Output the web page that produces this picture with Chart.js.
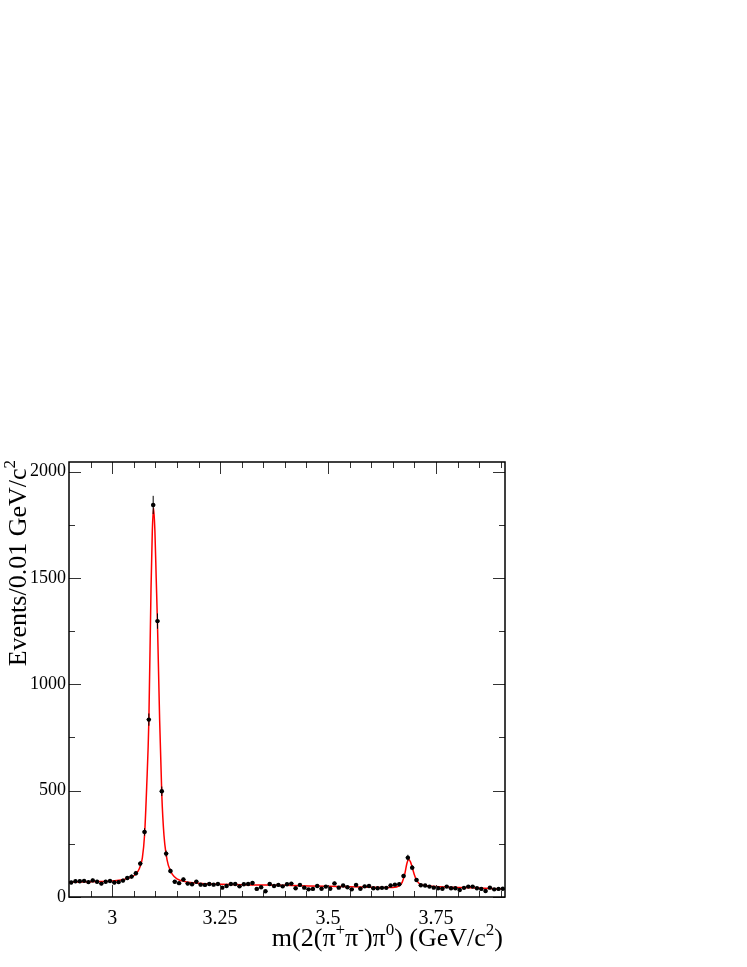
<!DOCTYPE html>
<html>
<head>
<meta charset="utf-8">
<style>
  html, body { margin: 0; padding: 0; background: #fff; }
  canvas { display: block; }
</style>
<script src="https://cdn.jsdelivr.net/npm/chart.js@4.4.1/dist/chart.umd.min.js"></script>
</head>
<body>
<canvas id="chart" width="747" height="967"></canvas>
<script>
// histogram: 0.01 GeV/c^2 bins from 2.90 to 3.91
const binLow = 2.9;
const binWidth = 0.01;
const counts = [
  68, 74, 74, 76, 70, 78, 72, 63, 72, 75,
  68, 70, 77, 89, 96, 112, 157, 306, 834, 1843,
  1297, 497, 204, 122, 72, 65, 82, 63, 60, 72,
  58, 57, 61, 58, 61, 44, 52, 61, 61, 50,
  60, 61, 66, 38, 46, 27, 61, 52, 57, 50,
  60, 63, 41, 57, 44, 36, 38, 52, 39, 49,
  39, 64, 44, 54, 46, 36, 57, 39, 50, 52,
  41, 41, 43, 43, 54, 58, 60, 99, 185, 138,
  80, 55, 54, 49, 44, 41, 39, 49, 41, 41,
  33, 43, 49, 49, 41, 38, 28, 44, 36, 38,
  39
];

// fit curve
const fitMass = [2.90, 2.95, 3.00, 3.02, 3.04, 3.05, 3.06, 3.065, 3.07, 3.075,
  3.08, 3.085, 3.09, 3.093, 3.096, 3.099, 3.102, 3.105, 3.11, 3.115,
  3.12, 3.125, 3.13, 3.14, 3.15, 3.17, 3.20, 3.30, 3.40, 3.50,
  3.60, 3.65, 3.665, 3.672, 3.678, 3.683, 3.687, 3.691, 3.695, 3.70,
  3.705, 3.71, 3.72, 3.74, 3.80, 3.85, 3.91];
const fitCounts = [70, 72, 75, 80, 90, 100, 122, 145, 185, 290,
  520, 830, 1450, 1720, 1830, 1720, 1500, 1280, 830, 480,
  290, 200, 150, 105, 85, 72, 65, 58, 55, 50,
  46, 45, 52, 70, 110, 160, 176, 165, 140, 105,
  80, 66, 55, 50, 45, 42, 38];

const xTickLabels = [3, 3.25, 3.5, 3.75];
const xMinorTicks = [2.95, 3.05, 3.1, 3.15, 3.2, 3.3, 3.35, 3.4, 3.45, 3.55, 3.6, 3.65, 3.7, 3.8, 3.85, 3.9];
const yTickLabels = [0, 500, 1000, 1500, 2000];
const yMinorTicks = [250, 750, 1250, 1750];

const serif = "'Liberation Serif', 'Times New Roman', serif";

const points = counts.map((c, i) => ({ x: binLow + (i + 0.5) * binWidth, y: c }));
const fitPoints = fitMass.map((m, i) => ({ x: m, y: fitCounts[i] }));

// draws text with superscripts, right aligned at (x, y)
function drawRich(ctx, parts, x, y) {
  const big = '26px ' + serif, small = '17px ' + serif;
  let total = 0;
  parts.forEach(p => {
    ctx.font = p.sup ? small : big;
    p.w = ctx.measureText(p.t).width;
    total += p.w;
  });
  let cx = x - total;
  ctx.textAlign = 'left';
  ctx.textBaseline = 'alphabetic';
  parts.forEach(p => {
    ctx.font = p.sup ? small : big;
    ctx.fillText(p.t, cx, p.sup ? y - 11 : y);
    cx += p.w;
  });
}

const rootStyle = {
  id: 'rootStyle',
  afterDatasetsDraw(chart) {
    const { ctx, chartArea: a, scales: { x, y } } = chart;
    // error bars
    ctx.save();
    ctx.beginPath();
    ctx.rect(a.left, a.top, a.right - a.left, a.bottom - a.top);
    ctx.clip();
    ctx.strokeStyle = '#000';
    ctx.lineWidth = 1;
    points.forEach(p => {
      const err = Math.sqrt(p.y);
      const px = x.getPixelForValue(p.x);
      ctx.beginPath();
      ctx.moveTo(px, y.getPixelForValue(p.y - err));
      ctx.lineTo(px, y.getPixelForValue(p.y + err));
      const py = y.getPixelForValue(p.y);
      ctx.moveTo(x.getPixelForValue(p.x - binWidth / 2), py);
      ctx.lineTo(x.getPixelForValue(p.x + binWidth / 2), py);
      ctx.stroke();
    });
    ctx.restore();
  },
  afterDraw(chart) {
    const { ctx, chartArea: a, scales: { x, y } } = chart;
    ctx.save();
    // ticks on all four sides, pointing inward
    ctx.strokeStyle = '#333';
    ctx.lineWidth = 1;
    const xt = (v, len) => {
      const px = Math.round(x.getPixelForValue(v)) + 0.5;
      ctx.beginPath();
      ctx.moveTo(px, a.bottom); ctx.lineTo(px, a.bottom - len);
      ctx.moveTo(px, a.top); ctx.lineTo(px, a.top + len);
      ctx.stroke();
    };
    const yt = (v, len) => {
      const py = Math.round(y.getPixelForValue(v)) + 0.5;
      ctx.beginPath();
      ctx.moveTo(a.left, py); ctx.lineTo(a.left + len, py);
      ctx.moveTo(a.right, py); ctx.lineTo(a.right - len, py);
      ctx.stroke();
    };
    xTickLabels.forEach(v => xt(v, 12));
    xMinorTicks.forEach(v => xt(v, 6));
    yTickLabels.forEach(v => yt(v, 12));
    yMinorTicks.forEach(v => yt(v, 6));
    // frame
    ctx.strokeStyle = '#000';
    ctx.lineWidth = 1.5;
    ctx.strokeRect(a.left, a.top, a.right - a.left, a.bottom - a.top);
    // axis titles
    ctx.fillStyle = '#000';
    drawRich(ctx, [
      { t: 'm(2(\u03c0' }, { t: '+', sup: true }, { t: '\u03c0' }, { t: '-', sup: true },
      { t: ')\u03c0' }, { t: '0', sup: true }, { t: ') (GeV/c' }, { t: '2', sup: true }, { t: ')' }
    ], 503, 946);
    ctx.translate(26, 460);
    ctx.rotate(-Math.PI / 2);
    drawRich(ctx, [{ t: 'Events/0.01 GeV/c' }, { t: '2', sup: true }], 0, 0);
    ctx.restore();
  }
};

const ctx = document.getElementById('chart').getContext('2d');
new Chart(ctx, {
  type: 'scatter',
  data: {
    datasets: [
      {
        type: 'scatter',
        label: 'Data',
        data: points,
        pointRadius: 2.2,
        pointBackgroundColor: '#000',
        pointBorderColor: '#000',
        pointBorderWidth: 0,
        order: 0,
      },
      {
        type: 'line',
        label: 'Fit',
        data: fitPoints,
        borderColor: '#ff0000',
        borderWidth: 1.5,
        pointRadius: 0,
        cubicInterpolationMode: 'monotone',
        fill: false,
        order: 1,
      },
    ],
  },
  options: {
    responsive: false,
    animation: false,
    layout: { padding: { left: 0, top: 462, right: 242, bottom: 0 } },
    plugins: { legend: { display: false }, tooltip: { enabled: false } },
    scales: {
      x: {
        type: 'linear',
        min: 2.9,
        max: 3.91,
        grid: { display: false, drawTicks: false },
        border: { display: false },
        ticks: {
          color: '#000',
          font: { family: serif, size: 20 },
          padding: 10,
          maxRotation: 0,
          callback: (v) => String(v),
        },
        afterBuildTicks: (s) => { s.ticks = xTickLabels.map(v => ({ value: v })); },
        afterFit: (s) => { s.height = 70; },
      },
      y: {
        type: 'linear',
        min: 0,
        max: 2045,
        grid: { display: false, drawTicks: false },
        border: { display: false },
        ticks: {
          color: '#000',
          font: { family: serif, size: 18 },
          padding: 3,
          callback: (v) => String(v),
        },
        afterBuildTicks: (s) => { s.ticks = yTickLabels.map(v => ({ value: v })); },
        afterFit: (s) => { s.width = 69; },
      },
    },
  },
  plugins: [rootStyle],
});
</script>
</body>
</html>
